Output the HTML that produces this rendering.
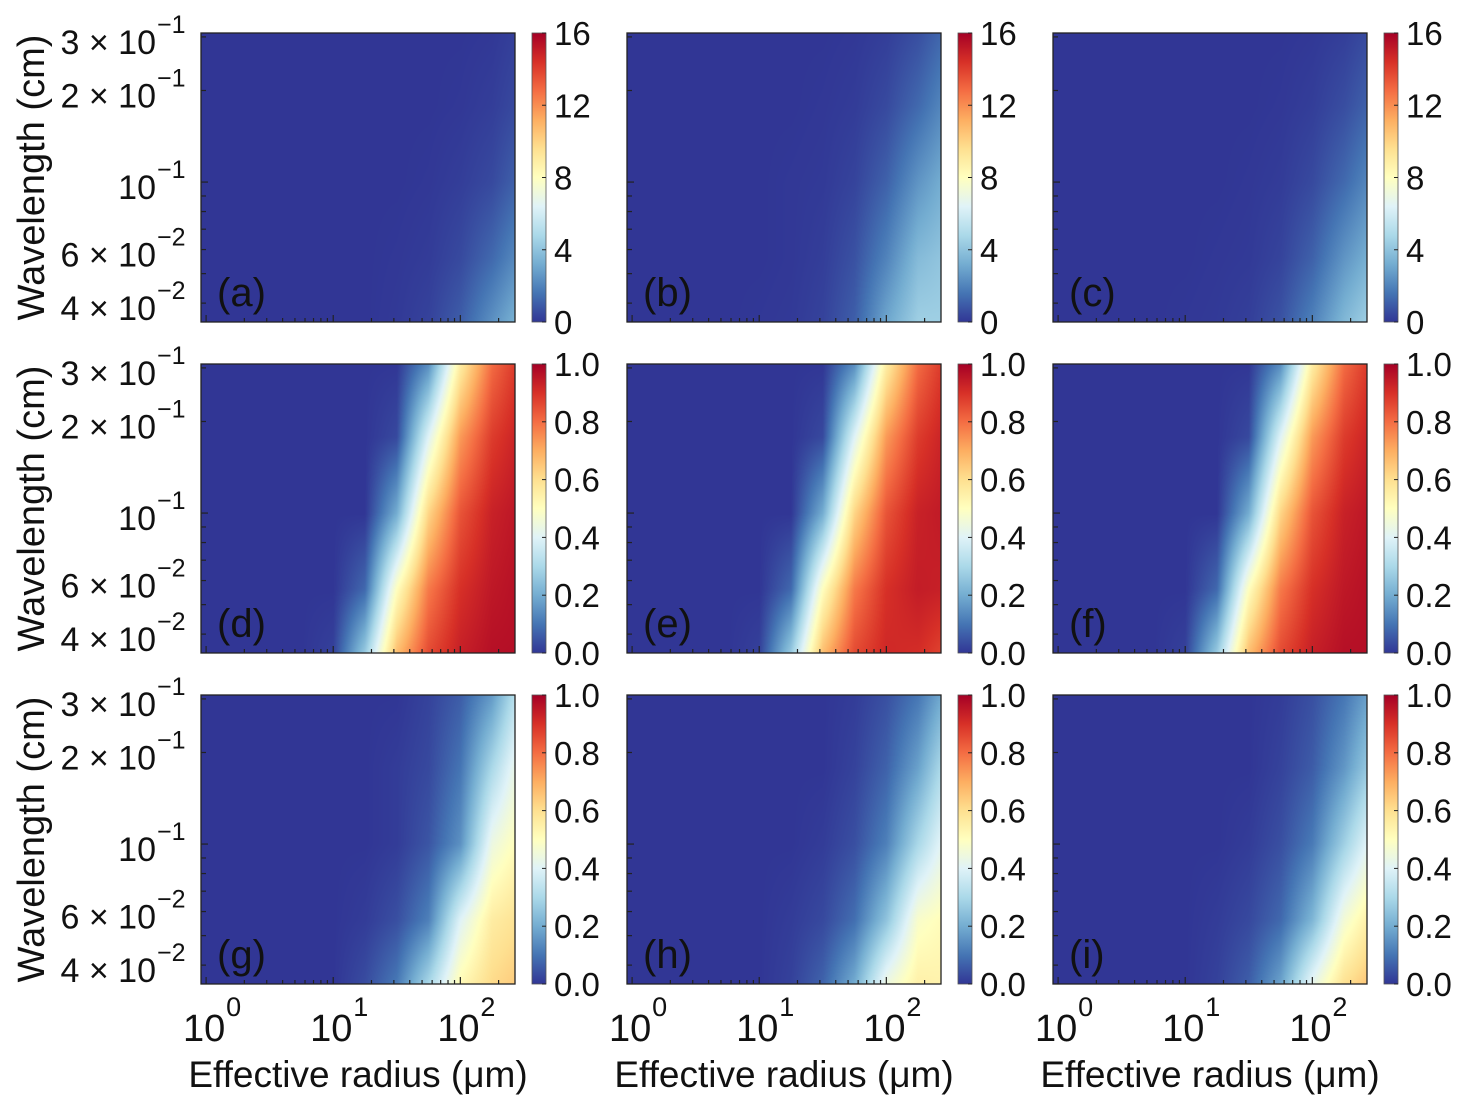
<!DOCTYPE html>
<html><head><meta charset="utf-8">
<style>
body{margin:0;background:#fff;width:1466px;height:1109px;overflow:hidden;position:relative;font-family:"Liberation Sans",sans-serif}
canvas{position:absolute;z-index:1}
svg{position:absolute;left:0;top:0;z-index:2}
</style></head>
<body>
<div id="root"></div>
<svg id="ov" width="1466" height="1109"></svg>
<script>
// grid coordinates (log10 radius columns, log10 wavelength rows)
const logR = [0, 0.5, 0.75, 1.0, 1.25, 1.5, 1.75, 2.0, 2.25, 2.5];
const logL = [-0.5, -0.75, -1.0, -1.25, -1.5];
const panelLabels = ['(a)','(b)','(c)','(d)','(e)','(f)','(g)','(h)','(i)'];
const vmax = [16,16,16,1,1,1,1,1,1];
const cbTicks16 = ['0','4','8','12','16'];
const cbTicks1 = ['0.0','0.2','0.4','0.6','0.8','1.0'];
const yTickVals = [0.3,0.2,0.1,0.06,0.04];
const yTickMant = ['3','2','','6','4'];
const yTickExp = ['−1','−1','−1','−2','−2'];
const xTickExp = ['0','1','2'];
const dataA = [
[0,0,0,0,0,0,0,0,0.05,0.3],
[0,0,0,0,0,0,0,0.05,0.2,0.6],
[0,0,0,0,0,0,0.05,0.2,0.5,1.3],
[0,0,0,0,0,0.05,0.15,0.5,1.3,2.5],
[0,0,0,0,0,0.1,0.35,1.1,2.6,4.0]];
const dataB = [
[0,0,0,0,0,0,0.05,0.2,0.6,1.4],
[0,0,0,0,0,0.05,0.15,0.5,1.3,2.4],
[0,0,0,0,0.05,0.1,0.35,1.1,2.5,3.5],
[0,0,0,0,0.05,0.2,0.7,2.0,3.7,4.2],
[0,0,0,0.05,0.1,0.35,1.1,3.2,4.6,4.5]];
const dataC = [
[0,0,0,0,0,0,0,0.05,0.2,0.6],
[0,0,0,0,0,0,0.05,0.2,0.6,1.3],
[0,0,0,0,0,0.05,0.15,0.5,1.3,2.4],
[0,0,0,0,0.05,0.1,0.35,1.1,2.5,3.6],
[0,0,0,0.05,0.1,0.25,0.8,2.1,3.8,5.0]];
const dataD = [
[0,0,0,0,0,0,0.13,0.55,0.8,0.91],
[0,0,0,0,0,0.03,0.4,0.73,0.88,0.94],
[0,0,0,0,0,0.2,0.62,0.84,0.93,0.96],
[0,0,0,0,0.08,0.5,0.78,0.9,0.95,0.97],
[0,0,0,0.02,0.3,0.7,0.87,0.94,0.97,0.97]];
const dataE = [
[0,0,0,0,0,0,0.13,0.55,0.8,0.91],
[0,0,0,0,0,0.03,0.4,0.73,0.88,0.94],
[0,0,0,0,0,0.2,0.62,0.84,0.93,0.95],
[0,0,0,0,0.08,0.5,0.78,0.9,0.94,0.93],
[0,0,0,0.02,0.3,0.7,0.87,0.92,0.9,0.84]];
const dataF = [
[0,0,0,0,0,0,0.13,0.55,0.8,0.91],
[0,0,0,0,0,0.03,0.4,0.73,0.88,0.94],
[0,0,0,0,0,0.2,0.62,0.84,0.93,0.96],
[0,0,0,0,0.08,0.5,0.78,0.9,0.95,0.97],
[0,0,0,0.02,0.3,0.7,0.87,0.94,0.97,0.97]];
const dataG = [
[0,0,0,0,0,0,0.02,0.06,0.16,0.38],
[0,0,0,0,0,0.01,0.03,0.1,0.3,0.48],
[0,0,0,0,0,0.01,0.05,0.15,0.44,0.53],
[0,0,0,0,0.01,0.04,0.12,0.4,0.56,0.6],
[0,0,0,0,0.04,0.12,0.33,0.54,0.62,0.66]];
const dataH = [
[0,0,0,0,0,0,0.01,0.04,0.1,0.22],
[0,0,0,0,0,0,0.02,0.07,0.18,0.35],
[0,0,0,0,0,0.01,0.04,0.12,0.3,0.45],
[0,0,0,0,0.01,0.03,0.09,0.25,0.48,0.52],
[0,0,0,0,0.02,0.08,0.22,0.48,0.56,0.54]];
const dataI = [
[0,0,0,0,0,0,0.01,0.04,0.1,0.2],
[0,0,0,0,0,0,0.02,0.06,0.16,0.3],
[0,0,0,0,0,0.01,0.04,0.11,0.28,0.45],
[0,0,0,0,0.01,0.03,0.08,0.22,0.46,0.58],
[0,0,0,0,0.02,0.07,0.2,0.46,0.62,0.69]];
const panelData = [dataA,dataB,dataC,dataD,dataE,dataF,dataG,dataH,dataI];

const cmapStops = ['#313695','#4575b4','#74add1','#abd9e9','#e0f3f8','#ffffbf','#fee090','#fdae61','#f46d43','#d73027','#a50026'];
const cmapRGB = cmapStops.map(h=>[parseInt(h.slice(1,3),16),parseInt(h.slice(3,5),16),parseInt(h.slice(5,7),16)]);
function cmap(t){t=Math.max(0,Math.min(1,t));const f=t*10;const i=Math.min(9,Math.floor(f));const u=f-i;const a=cmapRGB[i],b=cmapRGB[i+1];return [a[0]+(b[0]-a[0])*u,a[1]+(b[1]-a[1])*u,a[2]+(b[2]-a[2])*u];}

const colX = [201,627,1053], rowY = [33,364,695], PW=314, PH=289;
const R0=-0.04, R1=2.43, L0=-0.51, L1=-1.46;
const xScale = (lr,px)=>px + (lr-R0)/(R1-R0)*PW;
const yScale = (ll,py)=>py + (ll-L0)/(L1-L0)*PH;

function locate(arr,v){
  const n=arr.length;
  const asc=arr[n-1]>arr[0];
  const t=asc?v:-v, a0=asc?arr[0]:-arr[0], an=asc?arr[n-1]:-arr[n-1];
  if(t<=a0) return [0,0];
  if(t>=an) return [n-2,1];
  for(let i=0;i<n-1;i++){
    const a=asc?arr[i]:-arr[i], b=asc?arr[i+1]:-arr[i+1];
    if(t>=a&&t<=b) return [i,(t-a)/(b-a)];
  }
  return [n-2,1];
}
function sample(d,lr,ll){
  const [ci,cf]=locate(logR,lr);
  const [ri,rf]=locate(logL,ll);
  const v00=d[ri][ci],v01=d[ri][ci+1],v10=d[ri+1][ci],v11=d[ri+1][ci+1];
  return (v00*(1-cf)+v01*cf)*(1-rf)+(v10*(1-cf)+v11*cf)*rf;
}
const root=document.body;
const NS='http://www.w3.org/2000/svg';
const ov=document.getElementById('ov');
function st(tag,attrs,txt){const e=document.createElementNS(NS,tag);for(const k in attrs)e.setAttribute(k,attrs[k]);if(txt!==undefined)e.textContent=txt;ov.appendChild(e);return e;}

for(let p=0;p<9;p++){
  const c=p%3,r=Math.floor(p/3);
  const px=colX[c],py=rowY[r];
  const cv=document.createElement('canvas');
  cv.width=PW;cv.height=PH;cv.style.left=px+'px';cv.style.top=py+'px';
  
  
  root.appendChild(cv);
  const ctx=cv.getContext('2d');const img=ctx.createImageData(PW,PH);
  const d=panelData[p];
  for(let y=0;y<PH;y++){const ll=L0+(y+0.5)/PH*(L1-L0);
    for(let x=0;x<PW;x++){const lr=R0+(x+0.5)/PW*(R1-R0);
      const v=sample(d,lr,ll)/vmax[p];const col=cmap(v);const k=(y*PW+x)*4;
      img.data[k]=col[0];img.data[k+1]=col[1];img.data[k+2]=col[2];img.data[k+3]=255;}}
  ctx.putImageData(img,0,0);
  const fr=st('rect',{x:px,y:py,width:PW,height:PH,fill:'none',stroke:'#222','stroke-width':1.3});
  
  
  for(let m=3;m>=1;m--){const ll=Math.log10(m/10);const y=yScale(ll,py);if(y>=py&&y<=py+PH){const t=st('line',{x1:px,x2:px+(m===1?7:5),y1:y,y2:y,stroke:'#222','stroke-width':1.2});}}
  for(let m=9;m>=4;m--){const ll=Math.log10(m/100);const y=yScale(ll,py);const t=st('line',{x1:px,x2:px+5,y1:y,y2:y,stroke:'#222','stroke-width':1.2});}
  for(let dec=0;dec<3;dec++)for(let m=1;m<=9;m++){const lr=dec+Math.log10(m);const x=xScale(lr,px);if(x<px||x>px+PW)continue;
    const t=st('line',{x1:x,x2:x,y1:py+PH,y2:py+PH-(m===1?7:4),stroke:'#222','stroke-width':1.2});}
  const pl=st('text',{x:px+16,y:py+PH-16,'font-size':40,fill:'#111'},panelLabels[p]);
  
  const cbx=px+331,cbw=14;
  const gid='g'+p;
  const defs=st('defs',{});const lg=document.createElementNS(NS,'linearGradient');lg.setAttribute('id',gid);lg.setAttribute('x1','0');lg.setAttribute('y1','1');lg.setAttribute('x2','0');lg.setAttribute('y2','0');defs.appendChild(lg);
  cmapStops.forEach((s,i)=>{const so=document.createElementNS(NS,'stop');so.setAttribute('offset',i/10);so.setAttribute('stop-color',s);lg.appendChild(so);});
  const cb=st('rect',{x:cbx,y:py,width:cbw,height:PH,fill:'url(#'+gid+')',stroke:'#555','stroke-width':0.8});
  
  const ticks=vmax[p]===16?cbTicks16:cbTicks1;
  ticks.forEach((lab,i)=>{const y=py+PH-i/(ticks.length-1)*PH;
    const tl=st('line',{x1:cbx+cbw-4,x2:cbx+cbw,y1:y,y2:y,stroke:'#222','stroke-width':1});
    const tt=st('text',{x:cbx+cbw+8,y:y+12,'font-size':33,fill:'#111'},lab);});
  if(c===0){
    yTickVals.forEach((v,i)=>{const y=yScale(Math.log10(v),py)+17;
      const t=st('text',{x:156,y:y,'font-size':34,fill:'#111','text-anchor':'end'},(yTickMant[i]?yTickMant[i]+' × ':'')+'10');
      
      const e=st('text',{x:157,y:y-21,'font-size':25,fill:'#111'},yTickExp[i]);
      });
    const yl=st('text',{x:0,y:0,'font-size':38,fill:'#111','text-anchor':'middle',transform:'translate(44,'+(py+PH/2)+') rotate(-90)'},'Wavelength (cm)');
    
  }
  if(r===2){
    xTickExp.forEach((e,i)=>{const x=xScale(i,px);
      const t=st('text',{x:x-2,y:1041,'font-size':38,fill:'#111','text-anchor':'middle'},'10');
      const s=st('text',{x:x+20,y:1016,'font-size':27,fill:'#111'},e);});
    const xl=st('text',{x:px+157,y:1087,'font-size':37,fill:'#111','text-anchor':'middle'},'Effective radius (μm)');
    
  }
}
</script>
</body></html>
